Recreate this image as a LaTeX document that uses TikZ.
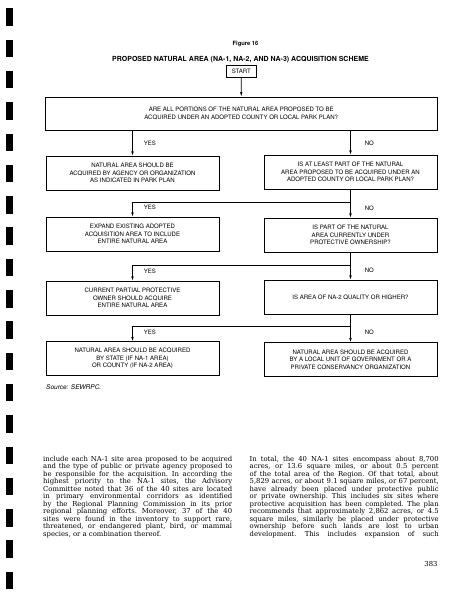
\documentclass[tikz,border=0pt]{standalone}
\usepackage{fontspec}
\setmainfont{DejaVu Serif}
\setsansfont{TeX Gyre Heros}
\usetikzlibrary{arrows.meta,calc}

\begin{document}
\begin{tikzpicture}[x=1pt,y=-1pt,
  box/.style={draw, line width=0.7pt, minimum width=173pt, minimum height=33.7pt,
    align=center, inner sep=1pt, font=\sffamily\fontsize{6.05}{7.7}\selectfont},
  flow/.style={line width=0.7pt, -{Latex[length=4.5pt,width=2.6pt]}},
  lbl/.style={inner sep=0pt, font=\sffamily\fontsize{6}{6}\selectfont},
  bodytext/.style={anchor=north west, inner sep=0pt, text width=189pt, align=justify,
    font=\fontsize{6.85}{7.5}\selectfont\frenchspacing}]

\useasboundingbox[fill=white] (0,0) rectangle (459,600);

% marks along the left edge
\foreach \i in {0,...,18}
  \fill (6,{8.3+31.3*\i}) rectangle ++(7,17.5);

\node[font=\sffamily\bfseries\fontsize{5.8}{7}\selectfont] (fig) at (245.5,44) {Figure 16};
\node[font=\sffamily\bfseries\fontsize{7}{8}\selectfont] (title) at (240.5,60)
  {PROPOSED NATURAL AREA (NA-1, NA-2, AND NA-3) ACQUISITION SCHEME};

\node[box, minimum width=30.7pt, minimum height=12pt] (start) at (241.3,71.7) {START};
\node[box, minimum width=392pt] (q1) at (241.2,113.7)
  {ARE ALL PORTIONS OF THE NATURAL AREA PROPOSED TO BE\\
   ACQUIRED UNDER AN ADOPTED COUNTY OR LOCAL PARK PLAN?};

\node[box] (act1) at (132.5,173) {NATURAL AREA SHOULD BE\\ACQUIRED BY AGENCY OR ORGANIZATION\\AS INDICATED IN PARK PLAN};
\node[box] (q2) at (350.5,172) {IS AT LEAST PART OF THE NATURAL\\AREA PROPOSED TO BE ACQUIRED UNDER AN\\ADOPTED COUNTY OR LOCAL PARK PLAN?};

\node[box] (act2) at (132.5,234) {EXPAND EXISTING ADOPTED\\ACQUISITION AREA TO INCLUDE\\ENTIRE NATURAL AREA};
\node[box] (q3) at (350.5,235) {IS PART OF THE NATURAL\\AREA CURRENTLY UNDER\\PROTECTIVE OWNERSHIP?};

\node[box] (act3) at (132.5,298) {CURRENT PARTIAL PROTECTIVE\\OWNER SHOULD ACQUIRE\\ENTIRE NATURAL AREA};
\node[box] (q4) at (350.5,297) {IS AREA OF NA-2 QUALITY OR HIGHER?};

\node[box] (act4) at (132.5,358.5) {NATURAL AREA SHOULD BE ACQUIRED\\BY STATE (IF NA-1 AREA)\\OR COUNTY (IF NA-2 AREA)};
\node[box] (act5) at (350.5,359.5) {NATURAL AREA SHOULD BE ACQUIRED\\BY A LOCAL UNIT OF GOVERNMENT OR A\\PRIVATE CONSERVANCY ORGANIZATION};

\coordinate (j2) at ($(q2.south)+(0,13.3)$);
\coordinate (j3) at ($(q3.south)+(0,13.3)$);
\coordinate (j4) at ($(q4.south)+(0,12.3)$);

\draw[flow] (start) -- (q1);
\draw[flow] (q1.south -| act1.north) -- node[lbl, right=11pt]{YES} (act1);
\draw[flow] (q1.south -| q2.north) -- node[lbl, right=14pt]{NO} (q2);

\draw[line width=0.7pt] (q2) -- (j2);
\draw[flow] (j2) -| node[lbl, pos=0.68, right=11pt]{YES} (act2);
\draw[flow] (j2) -- node[lbl, pos=0.35, right=14pt]{NO} (q3);

\draw[line width=0.7pt] (q3) -- (j3);
\draw[flow] (j3) -| node[lbl, pos=0.68, right=11pt]{YES} (act3);
\draw[flow] (j3) -- node[lbl, pos=0.35, right=14pt]{NO} (q4);

\draw[line width=0.7pt] (q4) -- (j4);
\draw[flow] (j4) -| node[lbl, pos=0.68, right=11pt]{YES} (act4);
\draw[flow] (j4) -- node[lbl, pos=0.35, right=14pt]{NO} (act5);

\node[anchor=west, inner sep=0pt, font=\sffamily\itshape\fontsize{6.5}{7}\selectfont] (source) at (46,387.5) {Source: SEWRPC.};

\node[bodytext] (colL) at (43,456) {include each NA-1 site area proposed to be acquired\linebreak
and the type of public or private agency proposed to\linebreak
be responsible for the acquisition. In according the\linebreak
highest priority to the NA-1 sites, the Advisory\linebreak
Committee noted that 36 of the 40 sites are located\linebreak
in primary environmental corridors as identified\linebreak
by the Regional Planning Commission in its prior\linebreak
regional planning efforts. Moreover, 37 of the 40\linebreak
sites were found in the inventory to support rare,\linebreak
threatened, or endangered plant, bird, or mammal\linebreak
species, or a combination thereof.};

\node[bodytext] (colR) at (249.5,456) {In total, the 40 NA-1 sites encompass about 8,700\linebreak
acres, or 13.6 square miles, or about 0.5 percent\linebreak
of the total area of the Region. Of that total, about\linebreak
5,829 acres, or about 9.1 square miles, or 67 percent,\linebreak
have already been placed under protective public\linebreak
or private ownership. This includes six sites where\linebreak
protective acquisition has been completed. The plan\linebreak
recommends that approximately 2,862 acres, or 4.5\linebreak
square miles, similarly be placed under protective\linebreak
ownership before such lands are lost to urban\linebreak
\makebox[\linewidth][s]{development. This includes expansion of such}};

\node[anchor=east, inner sep=0pt, font=\fontsize{6.85}{7}\selectfont] (pagenum) at (437.7,564) {383};

\end{tikzpicture}
\end{document}
